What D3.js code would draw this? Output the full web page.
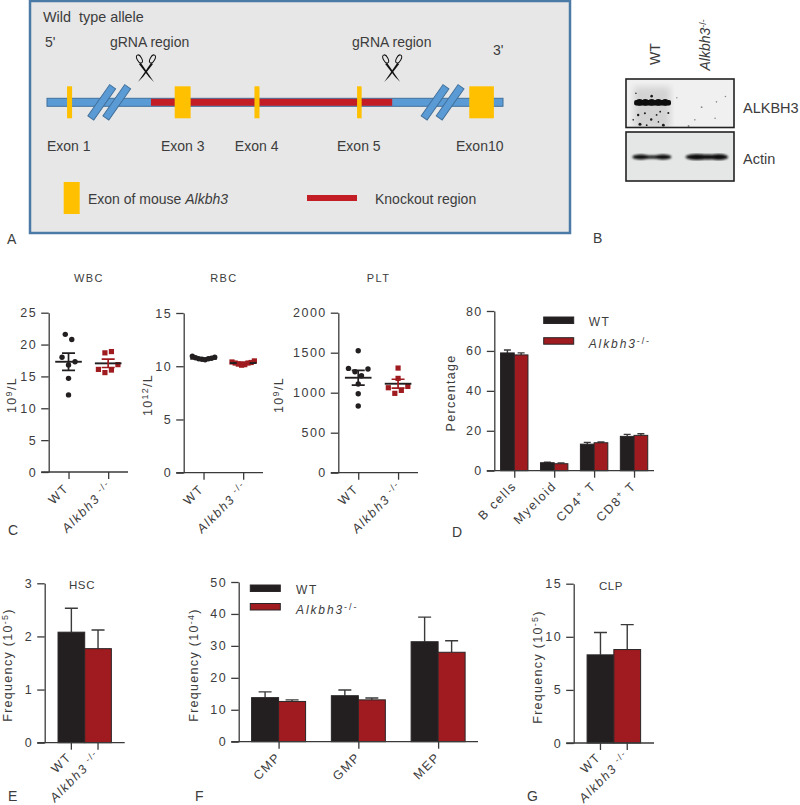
<!DOCTYPE html>
<html>
<head>
<meta charset="utf-8">
<script src="https://cdnjs.cloudflare.com/ajax/libs/d3/7.8.5/d3.min.js"></script>
<style>
    html, body { margin: 0; padding: 0; background: #fff; }
    svg { display: block; }
    text { font-family: "Liberation Sans", Arial, sans-serif; fill: #3c3c3c; }
    .tick text { font-size: 12.5px; letter-spacing: 1.5px; }
    .axis path, .axis line { stroke: #3a3a3a; stroke-width: 1.3; }
</style>
</head>
<body>
<div id="figure"></div>
<script>
// panel A, gene map (map units 0-100 along the line)
var exonNames = ['Exon 1', 'Exon 3', 'Exon 4', 'Exon 5', 'Exon10'];
var exonStart = [4.4, 28, 45.5, 68, 92.6];
var exonEnd = [5.5, 31.5, 46.6, 69, 98];
var exonLabelAt = [0, 25, 41.2, 63.6, 89.7];
var knockoutRange = [22.8, 75.7];
var breakMarks = [12, 15.3, 85.1, 88.4];
var cutSites = [21.7, 75.7];
var gRnaLabelAt = [13.8, 66.9];

// panel B, blot (lane units 0-24 across, 0-12 down)
var blotLanes = ['WT', 'Alkbh3'];
var blotSpecks = [[5.7, 4.2, 1.3], [2.7, 8.8, 1.2], [5.6, 9.9, 1.2], [8.3, 11.3, 1.4], [3.1, 11.1, 1.5], [9.4, 8.3, 1],
    [7.6, 8, 0.9], [4.2, 8.4, 1], [2.2, 3.5, 0.8], [6.8, 8.8, 0.9], [4.6, 11.3, 0.9], [1.6, 10, 0.8], [7.2, 10.5, 0.8],
    [16.8, 6.9, 0.9], [20.1, 5.6, 0.8], [22.1, 4.3, 0.8], [13.9, 11.5, 1], [11.3, 4.6, 0.7], [15.3, 10, 0.8], [19.8, 9.6, 0.8]];
var alkbhBumps = [3, 4.3, 5.7, 7.2, 8.7];
var actinBumps = [[3.3, 1.9, 2.6], [5.8, 2.2, 1.6], [8.2, 1.9, 2.4], [15.8, 2.6, 2.9], [18.2, 2.8, 2.5], [20.6, 2.1, 3]];

// panel C
var genotypes = ['WT', 'Alkbh3'];
var wbcWT = [21.6, 20.8, 18.0, 17.3, 16.8, 14.7, 12.1];
var wbcKO = [18.9, 18.7, 16.85, 16.1, 16.0, 15.6];
var wbcMean = [17.3, 17.05];
var wbcSem = [1.35, 0.65];
var rbcWT = [10.95, 10.85, 10.8, 10.75, 10.7, 10.7, 10.65, 10.6];
var rbcKO = [10.5, 10.4, 10.35, 10.3, 10.3, 10.2, 10.15, 10.1];
var rbcMean = [10.7, 10.3];
var rbcSem = [0.07, 0.08];
var pltWT = [1525, 1304, 1296, 1262, 1212, 1108, 987, 833];
var pltKO = [1308, 1179, 1079, 1062, 1029, 992];
var pltMean = [1187, 1112];
var pltSem = [92, 56];

// panel D
var lineages = ['B cells', 'Myeloid', 'CD4', 'CD8'];
var lineageWT = [59, 4, 13.3, 17.2];
var lineageKO = [58, 3.5, 14, 17.7];
var lineageWTTop = [60.5, 4.2, 14.2, 18.2];
var lineageKOTop = [59, 3.9, 14.4, 18.5];

// panel E
var hscValues = [2.08, 1.77];
var hscTops = [2.53, 2.12];

// panel F
var progenitors = ['CMP', 'GMP', 'MEP'];
var progenitorWT = [13.8, 14.4, 31.3];
var progenitorKO = [12.6, 13.1, 28];
var progenitorWTTop = [15.6, 16.2, 39];
var progenitorKOTop = [13.1, 13.7, 31.6];

// panel G
var clpValues = [8.3, 8.8];
var clpTops = [10.4, 11.15];

var BLACK = '#231f20', RED = '#9f1b1f';

var svg = d3.select('#figure').append('svg')
    .attr('width', 800)
    .attr('height', 805);

function addText(parent, x, y, str, size, opts) {
    opts = opts || {};
    return parent.append('text')
        .attr('x', x)
        .attr('y', y)
        .attr('text-anchor', opts.anchor || 'start')
        .style('font-size', size + 'px')
        .style('letter-spacing', (opts.spacing || 0) + 'px')
        .style('font-style', opts.italic ? 'italic' : 'normal')
        .attr('transform', opts.rotate ? 'rotate(' + opts.rotate + ' ' + x + ' ' + y + ')' : null)
        .text(str);
}

// text followed by a raised bit, then optionally more text
function addSup(sel, sup, rest) {
    sel.append('tspan').attr('dy', -4.5).style('font-size', '9px').style('font-style', 'normal').text(sup);
    if (rest) {
        sel.append('tspan').attr('dy', 4.5).text(rest);
    }
    return sel;
}

function drawScissors(parent, cx, cy) {
    var g = parent.append('g').attr('transform', 'translate(' + cx + ',' + cy + ')');
    [-1, 1].forEach(function (side) {
        var blade = d3.path();
        blade.moveTo(side * 5, -6);
        blade.lineTo(side * -8, 13);
        blade.lineTo(side * -3, 8);
        blade.lineTo(side * 7, -5);
        blade.closePath();
        g.append('path').attr('d', blade.toString()).attr('fill', '#111');
        g.append('ellipse')
            .attr('cx', side * 6.5)
            .attr('cy', -10)
            .attr('rx', 2.3)
            .attr('ry', 4.4)
            .attr('transform', 'rotate(' + (side * 28) + ' ' + (side * 6.5) + ' -10)')
            .attr('fill', 'none')
            .attr('stroke', '#111')
            .attr('stroke-width', 1);
    });
}

function drawGeneMap() {
    var g = svg.append('g'),
        map = d3.scaleLinear().domain([0, 100]).range([47, 503]),
        lineY = 102.3;

    g.append('rect')
        .attr('x', 30).attr('y', 1).attr('width', 540).attr('height', 232)
        .attr('fill', '#e7e7e7').attr('stroke', '#4a7aa5').attr('stroke-width', 2.5);

    addText(g, 43, 22, 'Wild  type allele', 14.4).style('white-space', 'pre');
    addText(g, 45, 47, "5'", 14);
    addText(g, 493, 55, "3'", 14);

    g.append('rect')
        .attr('x', map(0)).attr('y', lineY - 4).attr('width', map(100) - map(0)).attr('height', 8)
        .attr('fill', '#5b9bd5').attr('stroke', '#41719c').attr('stroke-width', 1);
    g.append('rect')
        .attr('x', map(knockoutRange[0])).attr('y', lineY - 3.5)
        .attr('width', map(knockoutRange[1]) - map(knockoutRange[0])).attr('height', 7)
        .attr('fill', '#c31e26');

    breakMarks.forEach(function (d) {
        g.append('rect')
            .attr('x', map(d) - 3.6).attr('y', lineY - 19).attr('width', 7.2).attr('height', 38)
            .attr('transform', 'rotate(35 ' + map(d) + ' ' + lineY + ')')
            .attr('fill', '#5b9bd5').attr('stroke', '#41719c').attr('stroke-width', 1);
    });

    g.selectAll('rect.exon')
        .data(exonNames)
        .enter().append('rect')
        .attr('class', 'exon')
        .attr('x', function (d, i) { return map(exonStart[i]); })
        .attr('width', function (d, i) { return map(exonEnd[i]) - map(exonStart[i]); })
        .attr('y', lineY - 16)
        .attr('height', 32)
        .attr('fill', '#ffc000');

    exonNames.forEach(function (name, i) {
        addText(g, map(exonLabelAt[i]), 151, name, 14);
    });

    cutSites.forEach(function (d, i) {
        addText(g, map(gRnaLabelAt[i]), 47, 'gRNA region', 14);
        drawScissors(g, map(d), 69);
    });

    g.append('rect').attr('x', 63.7).attr('y', 182).attr('width', 16).attr('height', 32).attr('fill', '#ffc000');
    var exonLabel = addText(g, 88, 204, 'Exon of mouse ', 14);
    exonLabel.append('tspan').style('font-style', 'italic').text('Alkbh3');
    g.append('rect').attr('x', 307).attr('y', 195).attr('width', 50).attr('height', 6).attr('fill', '#c31e26');
    addText(g, 375, 204, 'Knockout region', 14);
}

function drawBlot() {
    var g = svg.append('g'),
        defs = svg.append('defs'),
        laneX = d3.scaleLinear().domain([0, 24]).range([626, 734]),
        rowY = d3.scaleLinear().domain([0, 12]).range([79, 128]);

    defs.append('filter').attr('id', 'blurWide').append('feGaussianBlur').attr('stdDeviation', 3);
    defs.append('filter').attr('id', 'blurBand').append('feGaussianBlur').attr('stdDeviation', 0.9);
    defs.append('filter').attr('id', 'blurSpeck').append('feGaussianBlur').attr('stdDeviation', 0.7);
    defs.append('clipPath').attr('id', 'blotClip').append('rect')
        .attr('x', 626).attr('y', 79).attr('width', 108).attr('height', 48.5);

    addText(g, 660, 54, blotLanes[0], 14, {rotate: -90, anchor: 'middle'});
    var ko = addText(g, 710, 70.5, blotLanes[1], 14, {rotate: -90, italic: true});
    addSup(ko, '-/-');

    g.append('rect').attr('x', 626).attr('y', 79).attr('width', 108).attr('height', 48.5)
        .attr('fill', '#f0f0f0');
    g.append('rect').attr('x', 626).attr('y', 132).attr('width', 108).attr('height', 49)
        .attr('fill', '#e5e6e6');

    var upper = g.append('g').attr('clip-path', 'url(#blotClip)');
    upper.append('rect')
        .attr('x', laneX(1.8)).attr('y', rowY(2)).attr('width', laneX(9.8) - laneX(1.8)).attr('height', rowY(12) - rowY(2))
        .attr('fill', '#a8a8a8').attr('opacity', 0.4).attr('filter', 'url(#blurWide)');
    upper.append('g').attr('filter', 'url(#blurSpeck)')
        .selectAll('circle')
        .data(blotSpecks)
        .enter().append('circle')
        .attr('cx', function (d) { return laneX(d[0]); })
        .attr('cy', function (d) { return rowY(d[1]); })
        .attr('r', function (d) { return d[2]; })
        .attr('fill', function (d) { return d[0] > 10 ? '#8a8a8a' : '#1c1c1c'; });

    var band = upper.append('g').attr('filter', 'url(#blurSpeck)');
    band.append('rect')
        .attr('x', laneX(1.8)).attr('y', rowY(5.8) - 2.8)
        .attr('width', laneX(10) - laneX(1.8)).attr('height', 5.6).attr('rx', 2)
        .attr('fill', '#0c0c0c');
    band.selectAll('circle')
        .data(alkbhBumps)
        .enter().append('circle')
        .attr('cx', function (d) { return laneX(d); })
        .attr('cy', rowY(5.7))
        .attr('r', 3.4)
        .attr('fill', '#0c0c0c');

    g.append('g').attr('filter', 'url(#blurBand)')
        .selectAll('ellipse')
        .data(actinBumps)
        .enter().append('ellipse')
        .attr('cx', function (d) { return laneX(d[0]); })
        .attr('cy', 157)
        .attr('rx', function (d) { return laneX(d[1]) - laneX(0); })
        .attr('ry', function (d) { return d[2]; })
        .attr('fill', '#0a0a0a');

    g.append('rect').attr('x', 626).attr('y', 79).attr('width', 108).attr('height', 48.5)
        .attr('fill', 'none').attr('stroke', '#222').attr('stroke-width', 1.6);
    g.append('rect').attr('x', 626).attr('y', 132).attr('width', 108).attr('height', 49)
        .attr('fill', 'none').attr('stroke', '#222').attr('stroke-width', 1.6);

    addText(g, 743, 113, 'ALKBH3', 14.5);
    addText(g, 743, 164, 'Actin', 14.5);
}

function drawAxes(g, x, y, y0, tickValues) {
    var left = x.range()[0];
    g.append('g')
        .attr('class', 'axis')
        .attr('transform', 'translate(' + left + ',0)')
        .call(d3.axisLeft(y).tickValues(tickValues).tickSize(7.5).tickSizeOuter(0).tickPadding(4).tickFormat(d3.format('d')));
    var bottom = g.append('g')
        .attr('class', 'axis')
        .attr('transform', 'translate(0,' + y0 + ')')
        .call(d3.axisBottom(x).tickSize(7).tickSizeOuter(0).tickFormat(''));
    bottom.select('.domain').attr('d', 'M' + (left - 7.5) + ',0H' + x.range()[1]);
}

// rotated category label, placed by hand because of the superscripts
function categoryLabel(g, x, y, name) {
    var t = addText(g, x, y, '', 12.5, {anchor: 'end', rotate: -45, spacing: 1.6});
    if (name === 'Alkbh3') {
        t.append('tspan').style('font-style', 'italic').text('Alkbh3');
        addSup(t, ' -/-');
    } else if (name === 'CD4' || name === 'CD8') {
        t.text(name);
        addSup(t, '+', ' T');
    } else {
        t.text(name);
    }
}

function yLabel(g, x, y, str, sup, rest) {
    var t = addText(g, x, y, str, 12.5, {anchor: 'middle', rotate: -90, spacing: 1.3});
    if (sup) {
        addSup(t, sup, rest);
    }
}

// close values share a row and spread out from the centre line, outermost first
function swarm(values, y, diameter, flip) {
    var sorted = values.slice().sort(d3.descending),
        rows = [],
        out = [];
    sorted.forEach(function (v, i) {
        if (i > 0 && y(v) - y(sorted[i - 1]) < diameter) {
            rows[rows.length - 1].push(v);
        } else {
            rows.push([v]);
        }
    });
    rows.forEach(function (row) {
        var slot = (row.length - 1) / 2,
            side = flip ? 1 : -1;
        row.forEach(function (v) {
            out.push({dx: side * slot * diameter, py: y(v)});
            if (side * (flip ? 1 : -1) < 0) {
                slot -= 1;
            }
            side = -side;
        });
    });
    return out;
}

function drawScatter(p) {
    var g = svg.append('g'),
        x = d3.scalePoint().domain(genotypes).range(p.xRange).padding(0.5),
        y = d3.scaleLinear().domain(p.domain).range([p.y0, p.yTop]);

    drawAxes(g, x, y, p.y0, p.ticks);

    [p.wt, p.ko].forEach(function (values, k) {
        var cx = x(genotypes[k]),
            pts = swarm(values, y, p.diameter, k === 1);
        if (k === 0) {
            g.selectAll('circle')
                .data(pts)
                .enter().append('circle')
                .attr('cx', function (d) { return cx + d.dx; })
                .attr('cy', function (d) { return d.py; })
                .attr('r', 2.7)
                .attr('fill', BLACK);
        } else {
            g.selectAll('rect.pt')
                .data(pts)
                .enter().append('rect')
                .attr('class', 'pt')
                .attr('x', function (d) { return cx + d.dx - 2.6; })
                .attr('y', function (d) { return d.py - 2.6; })
                .attr('width', 5.2)
                .attr('height', 5.2)
                .attr('fill', RED);
        }
        var mean = y(p.mean[k]),
            hi = y(p.mean[k] + p.sem[k]),
            lo = y(p.mean[k] - p.sem[k]),
            line = d3.path();
        line.moveTo(cx - 13.3, mean); line.lineTo(cx + 13.3, mean);
        g.append('path').attr('d', line.toString())
            .attr('stroke', BLACK).attr('stroke-width', 1.9).attr('fill', 'none');
        g.append('path')
            .attr('d', 'M' + (cx - 6.5) + ',' + hi + 'H' + (cx + 6.5) + 'M' + (cx - 6.5) + ',' + lo + 'H' + (cx + 6.5) + 'M' + cx + ',' + hi + 'V' + lo)
            .attr('stroke', k === 0 ? BLACK : RED).attr('stroke-width', 1.7).attr('fill', 'none');
        categoryLabel(g, cx + (k === 0 ? 1 : 5), p.y0 + (k === 0 ? 17 : 15), genotypes[k]);
    });

    addText(g, (p.xRange[0] + p.xRange[1]) / 2 + 0.5, 282, p.title, 11, {anchor: 'middle', spacing: 1.4});
    yLabel(g, p.labelX, 395, p.labelA, p.labelSup, '/L');
}

function drawErrorBar(g, cx, top, base, cap) {
    g.append('path')
        .attr('d', 'M' + cx + ',' + base + 'V' + top + 'M' + (cx - cap) + ',' + top + 'H' + (cx + cap))
        .attr('stroke', '#3a3a3a').attr('stroke-width', 1.4).attr('fill', 'none');
}

function drawBar(g, xLeft, width, y, value, color) {
    g.append('rect')
        .attr('x', xLeft)
        .attr('y', y(value))
        .attr('width', width)
        .attr('height', y(0) - y(value))
        .attr('fill', color)
        .attr('stroke', '#2a2627')
        .attr('stroke-width', 1);
}

function drawGroupedBars(p) {
    var g = svg.append('g'),
        x = d3.scalePoint().domain(p.categories).range(p.xRange).padding(0.5),
        y = d3.scaleLinear().domain(p.domain).range([p.y0, p.yTop]);

    p.categories.forEach(function (c, i) {
        var cx = x(c);
        drawErrorBar(g, cx - p.barWidth / 2, y(p.wtTop[i]), y(p.wt[i]), p.cap);
        drawErrorBar(g, cx + p.barWidth / 2, y(p.koTop[i]), y(p.ko[i]), p.cap);
        drawBar(g, cx - p.barWidth, p.barWidth, y, p.wt[i], BLACK);
        drawBar(g, cx, p.barWidth, y, p.ko[i], RED);
        categoryLabel(g, cx + 3, p.y0 + 16, c);
    });
    drawAxes(g, x, y, p.y0, p.ticks);

    // legend
    [0, 1].forEach(function (k) {
        g.append('rect')
            .attr('x', p.legendX)
            .attr('y', p.legendY[k])
            .attr('width', 30)
            .attr('height', 6.5)
            .attr('fill', k === 0 ? BLACK : RED)
            .attr('stroke', '#2a2627');
    });
    addText(g, p.legendX + p.legendGap, p.legendY[0] + 9, 'WT', 12, {spacing: 1.6});
    var ko = addText(g, p.legendX + p.legendGap, p.legendY[1] + 10.5, '', 12, {spacing: 1.9});
    ko.append('tspan').style('font-style', 'italic').text('Alkbh3');
    addSup(ko, '-/-');

    yLabel(g, p.labelX, p.labelY, p.label, p.labelSup, p.labelRest);
}

function drawPairBars(p) {
    var g = svg.append('g'),
        x = d3.scaleBand().domain(genotypes).range(p.xRange).paddingInner(0).paddingOuter(0.5),
        y = d3.scaleLinear().domain(p.domain).range([p.y0, p.yTop]);

    genotypes.forEach(function (c, i) {
        var cx = x(c) + x.bandwidth() / 2;
        drawErrorBar(g, cx, y(p.tops[i]), y(p.values[i]), 6.5);
        drawBar(g, x(c), x.bandwidth(), y, p.values[i], i === 0 ? BLACK : RED);
        categoryLabel(g, cx + (i === 0 ? 1 : 3), p.y0 + (i === 0 ? 15 : 14), c);
    });
    drawAxes(g, x, y, p.y0, p.ticks);

    addText(g, p.titleX, p.titleY, p.title, 11.5, {anchor: 'middle', spacing: 0.6});
    yLabel(g, p.labelX, p.labelY, 'Frequency (10', '-5', ')');
}

drawGeneMap();
drawBlot();

drawScatter({xRange: [48.7, 128], y0: 472, yTop: 312.7, domain: [0, 25], ticks: [0, 5, 10, 15, 20, 25],
    wt: wbcWT, ko: wbcKO, mean: wbcMean, sem: wbcSem, diameter: 6.5, title: 'WBC', labelX: 16, labelA: '10', labelSup: '9'});
drawScatter({xRange: [183.7, 263], y0: 472.7, yTop: 313, domain: [0, 15], ticks: [0, 5, 10, 15],
    wt: rbcWT, ko: rbcKO, mean: rbcMean, sem: rbcSem, diameter: 3.2, title: 'RBC', labelX: 152, labelA: '10', labelSup: '12'});
drawScatter({xRange: [338.3, 418], y0: 472.7, yTop: 312.7, domain: [0, 2000], ticks: [0, 500, 1000, 1500, 2000],
    wt: pltWT, ko: pltKO, mean: pltMean, sem: pltSem, diameter: 6.5, title: 'PLT', labelX: 283, labelA: '10', labelSup: '9'});

drawGroupedBars({categories: lineages, xRange: [494.3, 654], y0: 470.7, yTop: 311, domain: [0, 80], ticks: [0, 20, 40, 60, 80],
    wt: lineageWT, ko: lineageKO, wtTop: lineageWTTop, koTop: lineageKOTop, barWidth: 13.7, cap: 3.5,
    legendX: 543.7, legendY: [317, 337.7], legendGap: 45, label: 'Percentage', labelX: 455, labelY: 393});

drawGroupedBars({categories: progenitors, xRange: [238.7, 478], y0: 741.7, yTop: 582, domain: [0, 50], ticks: [0, 10, 20, 30, 40, 50],
    wt: progenitorWT, ko: progenitorKO, wtTop: progenitorWTTop, koTop: progenitorKOTop, barWidth: 27, cap: 6.5,
    legendX: 250.3, legendY: [585, 603.5], legendGap: 45.7, label: 'Frequency (10', labelSup: '-4', labelRest: ')', labelX: 198, labelY: 665});

drawPairBars({xRange: [44.7, 124.7], y0: 742.7, yTop: 583.3, domain: [0, 3], ticks: [0, 1, 2, 3],
    values: hscValues, tops: hscTops, title: 'HSC', titleX: 82, titleY: 589, labelX: 12, labelY: 665});
drawPairBars({xRange: [573.7, 654], y0: 743, yTop: 583.7, domain: [0, 15], ticks: [0, 5, 10, 15],
    values: clpValues, tops: clpTops, title: 'CLP', titleX: 611, titleY: 590, labelX: 542, labelY: 667});

[['A', 7, 244], ['B', 593, 243], ['C', 8, 535], ['D', 452, 537], ['E', 8, 801], ['F', 195, 801], ['G', 527, 801]]
    .forEach(function (d) {
        addText(svg, d[1], d[2], d[0], 14);
    });
</script>
</body>
</html>
